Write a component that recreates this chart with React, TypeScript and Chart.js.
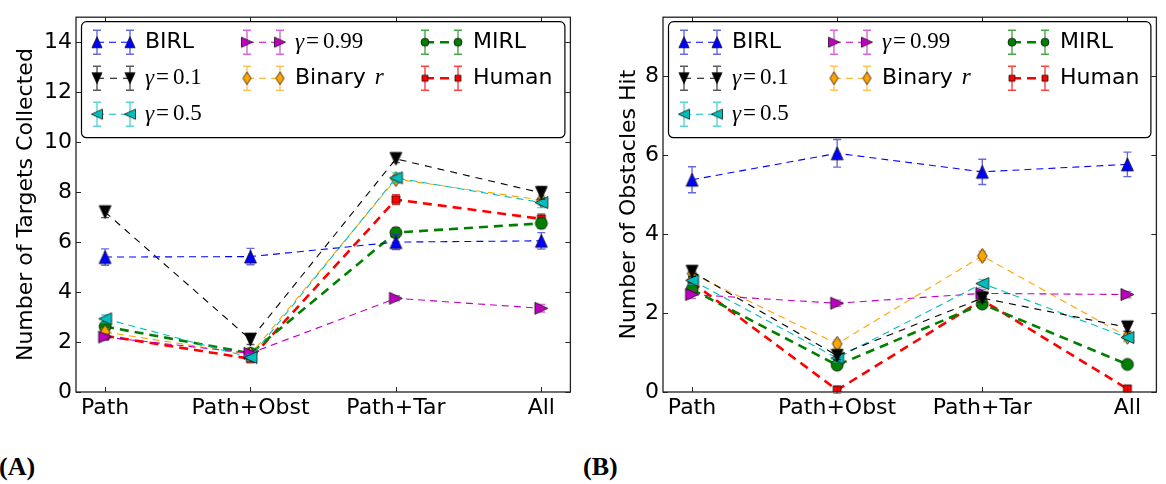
import React, { useEffect, useRef } from 'react';
import { Chart, registerables } from 'chart.js';

Chart.register(...registerables);

// ---------------- DATA ----------------
const categories = ['Path', 'Path+Obst', 'Path+Tar', 'All'];
const seriesNames = ['BIRL', 'γ=0.1', 'γ=0.5', 'γ=0.99', 'Binary r', 'MIRL', 'Human'];

// Panel A: Number of Targets Collected
const targetsBIRL = [5.4, 5.42, 6.0, 6.05];
const targetsG01 = [7.2, 2.1, 9.33, 7.97];
const targetsG05 = [2.93, 1.38, 8.57, 7.58];
const targetsG099 = [2.2, 1.55, 3.75, 3.35];
const targetsBinary = [2.4, 1.5, 8.52, 7.68];
const targetsMIRL = [2.62, 1.55, 6.38, 6.75];
const targetsHuman = [2.25, 1.33, 7.7, 6.93];

const targetsErrBIRL = [0.33, 0.33, 0.3, 0.33];
const targetsErrG01 = [0.22, 0.2, 0.15, 0.25];
const targetsErrG05 = [0.15, 0.12, 0.2, 0.2];
const targetsErrG099 = [0.12, 0.1, 0.1, 0.15];
const targetsErrBinary = [0.12, 0.1, 0.15, 0.2];
const targetsErrMIRL = [0.15, 0.1, 0.2, 0.2];
const targetsErrHuman = [0.12, 0.1, 0.2, 0.2];

// Panel B: Number of Obstacles Hit
const obstBIRL = [5.38, 6.05, 5.58, 5.77];
const obstG01 = [3.05, 0.92, 2.38, 1.64];
const obstG05 = [2.83, 0.86, 2.75, 1.38];
const obstG099 = [2.47, 2.25, 2.5, 2.47];
const obstBinary = [3.0, 1.22, 3.45, 1.4];
const obstMIRL = [2.6, 0.68, 2.23, 0.7];
const obstHuman = [2.78, 0.05, 2.33, 0.08];

const obstErrBIRL = [0.33, 0.35, 0.32, 0.31];
const obstErrG01 = [0.12, 0.1, 0.1, 0.1];
const obstErrG05 = [0.1, 0.1, 0.1, 0.1];
const obstErrG099 = [0.1, 0.08, 0.1, 0.08];
const obstErrBinary = [0.12, 0.1, 0.12, 0.1];
const obstErrMIRL = [0.1, 0.08, 0.1, 0.08];
const obstErrHuman = [0.12, 0.1, 0.1, 0.08];

const yTicksA = [0, 2, 4, 6, 8, 10, 12, 14];
const yTicksB = [0, 2, 4, 6, 8];

// ---------------- STYLES ----------------
type Kind = 'up' | 'down' | 'left' | 'right' | 'thinDiamond' | 'circle' | 'square';
interface SeriesStyle {
  color: string;
  errColor: string;
  lw: number;
  dash: number[];
  marker: Kind;
  size: number;
}

const styles: SeriesStyle[] = [
  { color: '#0000ff', errColor: 'rgba(40,40,210,0.7)', lw: 1.1, dash: [7, 5], marker: 'up', size: 13 },
  { color: '#000000', errColor: 'rgba(0,0,0,0.65)', lw: 1.1, dash: [7, 6], marker: 'down', size: 13 },
  { color: '#00bfbf', errColor: 'rgba(0,191,191,0.65)', lw: 1.1, dash: [7, 5], marker: 'left', size: 13 },
  { color: '#bf00bf', errColor: 'rgba(191,0,191,0.6)', lw: 1.1, dash: [7, 5], marker: 'right', size: 13 },
  { color: '#ffa500', errColor: 'rgba(255,165,0,0.65)', lw: 1.1, dash: [7, 5], marker: 'thinDiamond', size: 15 },
  { color: '#008000', errColor: 'rgba(0,128,0,0.7)', lw: 2.6, dash: [9, 6], marker: 'circle', size: 12 },
  { color: '#ff0000', errColor: 'rgba(255,0,0,0.75)', lw: 2.6, dash: [9, 6], marker: 'square', size: 8 },
];

const SANS = '"DejaVu Sans", sans-serif';
const SERIF = '"Liberation Serif", serif';

function markerPath(ctx: CanvasRenderingContext2D, kind: Kind, s: number) {
  const h = s / 2;
  ctx.beginPath();
  switch (kind) {
    case 'up':
      ctx.moveTo(0, -h); ctx.lineTo(h * 0.92, h); ctx.lineTo(-h * 0.92, h); break;
    case 'down':
      ctx.moveTo(0, h); ctx.lineTo(h * 0.92, -h); ctx.lineTo(-h * 0.92, -h); break;
    case 'left':
      ctx.moveTo(-h, 0); ctx.lineTo(h, -h * 0.92); ctx.lineTo(h, h * 0.92); break;
    case 'right':
      ctx.moveTo(h, 0); ctx.lineTo(-h, -h * 0.92); ctx.lineTo(-h, h * 0.92); break;
    case 'thinDiamond':
      ctx.moveTo(0, -h); ctx.lineTo(h * 0.64, 0); ctx.lineTo(0, h); ctx.lineTo(-h * 0.64, 0); break;
    case 'circle':
      ctx.arc(0, 0, h, 0, Math.PI * 2); break;
    case 'square':
      ctx.rect(-h, -h, s, s); break;
  }
  ctx.closePath();
}

function makeMarker(kind: Kind, color: string, s: number): HTMLCanvasElement {
  const dim = Math.ceil(s + 4);
  const c = document.createElement('canvas');
  c.width = dim;
  c.height = dim;
  const ctx = c.getContext('2d')!;
  ctx.translate(dim / 2, dim / 2);
  markerPath(ctx, kind, s);
  ctx.fillStyle = color;
  ctx.fill();
  ctx.lineWidth = 0.8;
  ctx.strokeStyle = '#111';
  ctx.stroke();
  return c;
}

function drawLabel(ctx: CanvasRenderingContext2D, name: string, x: number, y: number) {
  ctx.fillStyle = '#000';
  ctx.textBaseline = 'middle';
  ctx.textAlign = 'left';
  if (name.startsWith('γ=')) {
    ctx.font = `italic 23px ${SERIF}`;
    ctx.fillText('γ', x, y + 1);
    x += ctx.measureText('γ').width + 2;
    ctx.font = `23px ${SERIF}`;
    ctx.fillText('=', x, y);
    x += ctx.measureText('=').width + 4;
    ctx.fillText(name.slice(2), x, y);
  } else if (name === 'Binary r') {
    ctx.font = `22px ${SANS}`;
    ctx.fillText('Binary', x, y);
    x += ctx.measureText('Binary ').width + 2;
    ctx.font = `italic 23px ${SERIF}`;
    ctx.fillText('r', x, y);
  } else {
    ctx.font = `22px ${SANS}`;
    ctx.fillText(name, x, y);
  }
}

const spacingPlugin = {
  id: 'spacing',
  beforeInit(chart: any) {
    try {
      (chart.ctx as any).letterSpacing = '0.7px';
    } catch (e) {
      /* ignore */
    }
  },
};

const errorBarPlugin = {
  id: 'errorBars',
  beforeDatasetDraw(chart: any, args: any) {
    const ds = chart.data.datasets[args.index];
    const errs: number[] | undefined = ds.errors;
    if (!errs) return;
    const ctx = chart.ctx as CanvasRenderingContext2D;
    const ys = chart.scales.y;
    const a = chart.chartArea;
    ctx.save();
    ctx.beginPath();
    ctx.rect(a.left, a.top, a.right - a.left, a.bottom - a.top + 2);
    ctx.clip();
    ctx.strokeStyle = ds.errColor;
    ctx.lineWidth = 1.4;
    args.meta.data.forEach((pt: any, i: number) => {
      const v = ds.data[i].y;
      const e = errs[i];
      const y1 = ys.getPixelForValue(v - e);
      const y2 = ys.getPixelForValue(v + e);
      const x = pt.x;
      ctx.beginPath();
      ctx.moveTo(x, y1); ctx.lineTo(x, y2);
      ctx.moveTo(x - 4, y1); ctx.lineTo(x + 4, y1);
      ctx.moveTo(x - 4, y2); ctx.lineTo(x + 4, y2);
      ctx.stroke();
    });
    ctx.restore();
  },
};

const framePlugin = {
  id: 'frame',
  afterDatasetsDraw(chart: any) {
    const ctx = chart.ctx as CanvasRenderingContext2D;
    const a = chart.chartArea;
    ctx.save();
    ctx.strokeStyle = '#222';
    ctx.lineWidth = 1.3;
    ctx.strokeRect(a.left, a.top, a.right - a.left, a.bottom - a.top);
    ctx.lineWidth = 1;
    ctx.beginPath();
    const tl = 5;
    chart.scales.y.ticks.forEach((t: any) => {
      const y = Math.round(chart.scales.y.getPixelForValue(t.value)) + 0.5;
      ctx.moveTo(a.left, y); ctx.lineTo(a.left + tl, y);
      ctx.moveTo(a.right, y); ctx.lineTo(a.right - tl, y);
    });
    chart.scales.x.ticks.forEach((t: any) => {
      const x = Math.round(chart.scales.x.getPixelForValue(t.value)) + 0.5;
      ctx.moveTo(x, a.top); ctx.lineTo(x, a.top + tl);
      ctx.moveTo(x, a.bottom); ctx.lineTo(x, a.bottom - tl);
    });
    ctx.stroke();
    ctx.restore();
  },
};

const legendPlugin = {
  id: 'boxLegend',
  afterDraw(chart: any) {
    const ctx = chart.ctx as CanvasRenderingContext2D;
    const a = chart.chartArea;
    const bx = a.left + 5.5, by = a.top + 4.5, bw = a.right - a.left - 11, bh = 116, r = 5;
    ctx.save();
    ctx.beginPath();
    ctx.moveTo(bx + r, by);
    ctx.lineTo(bx + bw - r, by);
    ctx.arcTo(bx + bw, by, bx + bw, by + r, r);
    ctx.lineTo(bx + bw, by + bh - r);
    ctx.arcTo(bx + bw, by + bh, bx + bw - r, by + bh, r);
    ctx.lineTo(bx + r, by + bh);
    ctx.arcTo(bx, by + bh, bx, by + bh - r, r);
    ctx.lineTo(bx, by + r);
    ctx.arcTo(bx, by, bx + r, by, r);
    ctx.closePath();
    ctx.fillStyle = '#fff';
    ctx.fill();
    ctx.strokeStyle = '#000';
    ctx.lineWidth = 1.2;
    ctx.stroke();

    const cols = [21, 171, 349];
    const rows = [25, 61, 97];
    const layout = [[0, 0], [0, 1], [0, 2], [1, 0], [1, 1], [2, 0], [2, 1]];
    styles.forEach((s, i) => {
      const [c, rr] = layout[i];
      const x0 = a.left + cols[c];
      const x1 = x0 + 33;
      const y = a.top + rows[rr];
      ctx.setLineDash(s.dash);
      ctx.lineWidth = s.lw;
      ctx.strokeStyle = s.color;
      ctx.beginPath();
      ctx.moveTo(x0, y); ctx.lineTo(x1, y);
      ctx.stroke();
      ctx.setLineDash([]);
      ctx.strokeStyle = s.errColor;
      ctx.lineWidth = 1.4;
      ctx.beginPath();
      [x0, x1].forEach((x) => {
        ctx.moveTo(x, y - 12); ctx.lineTo(x, y + 12);
        ctx.moveTo(x - 4, y - 12); ctx.lineTo(x + 4, y - 12);
        ctx.moveTo(x - 4, y + 12); ctx.lineTo(x + 4, y + 12);
      });
      ctx.stroke();
      const sz = s.marker === 'circle' ? 8 : s.marker === 'square' ? 6 : s.size * 0.85;
      const img = makeMarker(s.marker, s.color, sz);
      [x0, x1].forEach((x) => ctx.drawImage(img, x - img.width / 2, y - img.height / 2));
      drawLabel(ctx, seriesNames[i], x0 + 48, y);
    });
    ctx.restore();
  },
};

interface PanelProps {
  left: number;
  width: number;
  yWidth: number;
  yMax: number;
  yTicks: number[];
  title: string;
  titlePad: number;
  values: number[][];
  errors: number[][];
  xHeight: number;
}

function Panel(p: PanelProps) {
  const ref = useRef<HTMLCanvasElement>(null);
  useEffect(() => {
    const datasets = p.values.map((vals, i) => {
      const s = styles[i];
      return {
        label: seriesNames[i],
        data: vals.map((v, j) => ({ x: j, y: v })),
        errors: p.errors[i],
        errColor: s.errColor,
        borderColor: s.color,
        backgroundColor: s.color,
        borderWidth: s.lw,
        borderDash: s.dash,
        pointStyle: makeMarker(s.marker, s.color, s.size),
        pointRadius: 7,
        pointHoverRadius: 7,
        fill: false,
        tension: 0,
      };
    });
    const chart = new Chart(ref.current!, {
      type: 'line',
      data: { datasets: datasets as any },
      plugins: [spacingPlugin, errorBarPlugin, framePlugin, legendPlugin],
      options: {
        animation: false,
        responsive: false,
        events: [],
        layout: { padding: { left: 0, top: 8, right: p.width - p.yWidth - 496, bottom: 430 - 8 - 384 - p.xHeight } },
        plugins: { legend: { display: false }, tooltip: { enabled: false } },
        scales: {
          x: {
            type: 'linear',
            min: -0.2,
            max: 3.2,
            afterBuildTicks: (s: any) => {
              s.ticks = categories.map((_, i) => ({ value: i }));
            },
            afterFit: (s: any) => {
              s.height = p.xHeight;
            },
            ticks: {
              callback: (v: any) => categories[Math.round(Number(v))],
              font: { family: SANS, size: 22 },
              color: '#000',
              padding: 3,
              autoSkip: false,
              maxRotation: 0,
              minRotation: 0,
            },
            grid: { display: false, drawTicks: false },
            border: { display: false },
          },
          y: {
            type: 'linear',
            min: 0,
            max: p.yMax,
            afterBuildTicks: (s: any) => {
              s.ticks = p.yTicks.map((v) => ({ value: v }));
            },
            afterFit: (s: any) => {
              s.width = p.yWidth;
            },
            ticks: {
              callback: (v: any) => String(v),
              font: { family: SANS, size: 22 },
              color: '#000',
              padding: 4,
            },
            grid: { display: false, drawTicks: false },
            border: { display: false },
            title: {
              display: true,
              text: p.title,
              font: { family: SANS, size: 22 },
              color: '#000',
              padding: { top: p.titlePad, bottom: 0 },
            },
          },
        },
      } as any,
    });
    return () => chart.destroy();
  }, []);
  return (
    <canvas
      ref={ref}
      width={p.width}
      height={430}
      style={{ position: 'absolute', left: p.left, top: 0, width: p.width, height: 430 }}
    />
  );
}

export default function App() {
  const valuesA = [targetsBIRL, targetsG01, targetsG05, targetsG099, targetsBinary, targetsMIRL, targetsHuman];
  const errorsA = [targetsErrBIRL, targetsErrG01, targetsErrG05, targetsErrG099, targetsErrBinary, targetsErrMIRL, targetsErrHuman];
  const valuesB = [obstBIRL, obstG01, obstG05, obstG099, obstBinary, obstMIRL, obstHuman];
  const errorsB = [obstErrBIRL, obstErrG01, obstErrG05, obstErrG099, obstErrBinary, obstErrMIRL, obstErrHuman];
  const labelStyle: React.CSSProperties = {
    position: 'absolute',
    top: 452,
    fontFamily: SERIF,
    fontWeight: 'bold',
    fontSize: 26,
    lineHeight: '30px',
    color: '#000',
  };
  return (
    <div style={{ position: 'absolute', left: 0, top: 0, width: 1166, height: 484, background: '#fff', overflow: 'hidden' }}>
      <Panel
        left={0}
        width={580}
        yWidth={76}
        yMax={15}
        yTicks={yTicksA}
        title="Number of Targets Collected"
        titlePad={13}
        values={valuesA}
        errors={errorsA}
        xHeight={30}
      />
      <Panel
        left={590}
        width={576}
        yWidth={73}
        yMax={9.5}
        yTicks={yTicksB}
        title="Number of Obstacles Hit"
        titlePad={26}
        values={valuesB}
        errors={errorsB}
        xHeight={31}
      />
      <div style={{ ...labelStyle, left: -1 }}>(A)</div>
      <div style={{ ...labelStyle, left: 583 }}>(B)</div>
    </div>
  );
}
